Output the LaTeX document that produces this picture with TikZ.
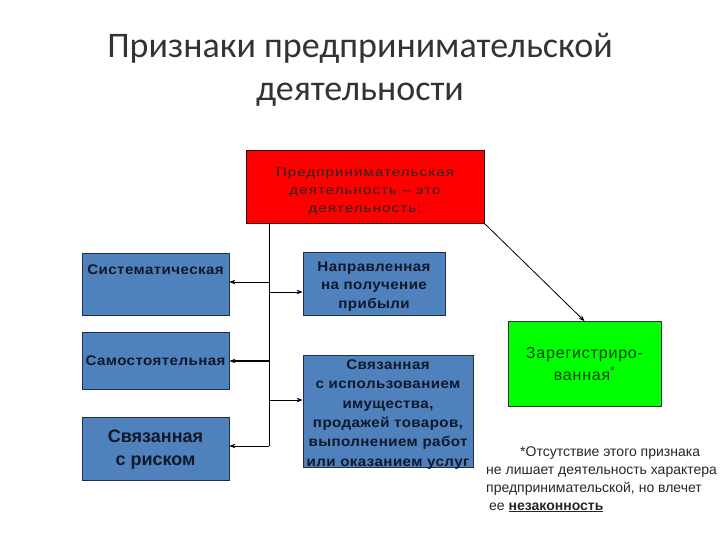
\documentclass[tikz,border=0pt]{standalone}
\usepackage{fontspec}
\setmainfont{Liberation Sans}
\newfontfamily\titlefont{Carlito}
\usetikzlibrary{arrows.meta}
\definecolor{boxblue}{HTML}{4F81BD}
\definecolor{boxborder}{HTML}{1F2F4F}
\definecolor{txtdark}{HTML}{10182A}
\begin{document}
\begin{tikzpicture}[x=1pt,y=-1pt,
  bluebox/.style={draw=boxborder,line width=0.8pt,fill=boxblue,inner sep=0pt},
  btext/.style={align=center,inner sep=0pt,text=txtdark,
    font=\fontsize{14}{18.5}\selectfont\bfseries\addfontfeatures{FakeStretch=1.08,LetterSpace=3}},
  conn/.style={draw=black,line width=0.8pt,-{Stealth[length=6pt,width=4.5pt]}}]
\useasboundingbox (0,0) rectangle (720,540);
\node[font=\titlefont\fontsize{36}{43}\selectfont,text=black!80,align=center] (title) at (360,70)
  {Признаки предпринимательской\\деятельности};
\node[draw=black!80!red,line width=0.8pt,fill=red,minimum width=238pt,minimum height=73pt,inner sep=0pt,
  label={[align=center,inner sep=0pt,yshift=-5pt,text=black!85,
    font=\fontsize{12.5}{18}\selectfont\addfontfeatures{FakeStretch=1.2,LetterSpace=9}]center:{Предпринимательская\\деятельность -- это\\деятельность:}}]
  (red) at (365,186.5) {};
\node[bluebox,minimum width=147pt,minimum height=62pt,
  label={[btext,yshift=14pt]center:{Систематическая}}] (sys) at (155.5,284) {};
\node[bluebox,minimum width=147pt,minimum height=57pt,
  label={[btext]center:{Самостоятельная}}] (sam) at (155.5,360.5) {};
\node[bluebox,minimum width=147pt,minimum height=63pt,
  label={[btext,font=\fontsize{18}{23}\selectfont\bfseries,yshift=-1pt]center:{Связанная\\с риском}}] (risk) at (155.5,448.5) {};
\node[bluebox,minimum width=142pt,minimum height=63pt,
  label={[btext,yshift=-3pt]center:{Направленная\\на получение\\прибыли}}] (napr) at (374,283.5) {};
\node[bluebox,minimum width=170pt,minimum height=112pt,
  label={[btext,yshift=-3.5pt,font=\fontsize{14}{19.3}\selectfont\bfseries\addfontfeatures{FakeStretch=1.08,LetterSpace=3}]center:{Связанная\\с использованием\\имущества,\\продажей товаров,\\выполнением работ\\или оказанием услуг}}]
  (svz) at (388,411) {};
\node[draw=black!80,line width=0.8pt,fill=green,minimum width=153pt,minimum height=85pt,inner sep=0pt,
  label={[align=center,inner sep=0pt,text=black!75!green,
    font=\fontsize{16}{22}\selectfont\addfontfeatures{LetterSpace=5}]center:{Зарегистриро-\\ванная\textsuperscript{*}}}]
  (grn) at (584.5,364) {};
\node[anchor=north west,align=left,inner sep=0pt,text=black!85,
  font=\fontsize{14}{17.7}\selectfont] (note) at (486,447)
  {\hspace*{34pt}*Отсутствие этого признака\\не лишает деятельность характера\\предпринимательской, но влечет\\\hspace*{3pt}ее \textbf{\underline{незаконность}}};
% trunk
\coordinate (t0) at (269,223);
\coordinate (t1) at (269,446);
\draw[line width=0.8pt] (t0) -- (t1);
\coordinate (a1) at (269,282);
\coordinate (a2) at (269,292);
\coordinate (a3) at (269,361);
\coordinate (a4) at (269,400);
\draw[conn] (a1) -- (sys.east |- a1);
\draw[conn] (a2) -- (napr.west |- a2);
\draw[conn,line width=1.6pt] (a3) -- (sam.east |- a3);
\draw[conn] (a4) -- (svz.west |- a4);
\draw[conn] (t1) -- (risk.east |- t1);
\draw[conn] (red.south east) -- (grn.north);
\end{tikzpicture}
\end{document}
